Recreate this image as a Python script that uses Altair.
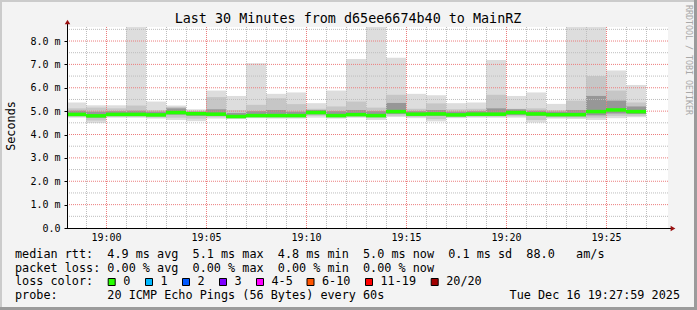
import altair as alt
import pandas as pd

MONO = "DejaVu Sans Mono"

# minutes relative to 19:00 at which each 1-minute smoke bar starts
bar_start = list(range(-2, 27))
rtt_max = [5.37, 5.25, 5.25, 8.60, 5.41, 5.24, 5.08, 5.88, 5.65, 7.05,
           5.74, 5.80, 5.34, 5.88, 7.23, 8.60, 7.28, 5.74, 5.68, 5.34,
           5.37, 7.19, 5.65, 5.80, 5.31, 8.60, 8.60, 6.74, 6.12]
rtt_p90 = [5.12, 5.15, 5.12, 5.24, 5.05, 5.18, 5.02, 5.60, 5.05, 5.27,
           5.55, 5.30, 5.10, 5.20, 5.41, 5.15, 5.70, 5.10, 5.33, 5.08,
           5.10, 5.70, 5.10, 5.12, 5.05, 5.45, 6.50, 5.88, 5.37]
rtt_p75 = [5.02, 4.98, 5.00, 5.02, 4.98, 5.12, 4.98, 5.08, 4.92, 5.00,
           5.05, 4.98, 5.05, 5.00, 5.05, 5.00, 5.35, 5.00, 5.05, 4.98,
           5.00, 5.12, 5.08, 5.02, 4.98, 5.05, 5.65, 5.45, 5.20]
rtt_median = [4.86, 4.80, 4.86, 4.86, 4.84, 4.94, 4.89, 4.87, 4.77, 4.81,
              4.81, 4.81, 4.94, 4.81, 4.85, 4.81, 4.98, 4.87, 4.88, 4.84,
              4.87, 4.87, 4.94, 4.88, 4.85, 4.85, 4.98, 5.05, 4.98]
rtt_p25 = [4.80, 4.72, 4.80, 4.80, 4.78, 4.85, 4.80, 4.80, 4.72, 4.76,
           4.75, 4.76, 4.86, 4.76, 4.80, 4.75, 4.88, 4.80, 4.80, 4.78,
           4.80, 4.80, 4.84, 4.80, 4.78, 4.78, 4.82, 4.90, 4.88]
rtt_p10 = [4.76, 4.60, 4.76, 4.76, 4.73, 4.72, 4.68, 4.74, 4.69, 4.73,
           4.72, 4.72, 4.80, 4.72, 4.76, 4.70, 4.80, 4.75, 4.66, 4.74,
           4.76, 4.76, 4.78, 4.62, 4.73, 4.72, 4.72, 4.80, 4.80]
rtt_min = [4.72, 4.49, 4.72, 4.72, 4.68, 4.62, 4.57, 4.68, 4.66, 4.70,
           4.68, 4.68, 4.72, 4.68, 4.72, 4.62, 4.75, 4.70, 4.56, 4.70,
           4.72, 4.72, 4.72, 4.51, 4.68, 4.66, 4.62, 4.70, 4.74]

x_ticks = [0, 5, 10, 15, 20, 25]
x_minor = [m for m in range(-1, 28) if m % 5 != 0]
y_ticks = [0, 1, 2, 3, 4, 5, 6, 7, 8]
y_major_grid = [1, 2, 3, 4, 5, 6, 7, 8]
y_minor_grid = [0.5, 1.5, 2.5, 3.5, 4.5, 5.5, 6.5, 7.5, 8.5]

title_text = "Last 30 Minutes from d65ee6674b40 to MainRZ"
legend_lines = [
    "median rtt:  4.9 ms avg  5.1 ms max  4.8 ms min  5.0 ms now  0.1 ms sd  88.0   am/s",
    "packet loss: 0.00 % avg  0.00 % max  0.00 % min  0.00 % now",
    "loss color:",
    "probe:       20 ICMP Echo Pings (56 Bytes) every 60s",
]
date_text = "Tue Dec 16 19:27:59 2025"
loss_labels = ["0", "1", "2", "3", "4-5", "6-10", "11-19", "20/20"]
loss_colors = ["#26ff00", "#00b8ff", "#0059ff", "#7e00ff", "#ff00ff",
               "#ff5500", "#ff0000", "#a10000"]
loss_square_x = [111.7, 149, 186, 223, 260, 310.5, 369, 434.7]  # absolute px centres

df = pd.DataFrame({
    "start": bar_start, "mx": rtt_max, "p90": rtt_p90, "p75": rtt_p75,
    "med": rtt_median, "p25": rtt_p25, "p10": rtt_p10, "mn": rtt_min,
})
df["end"] = df["start"] + 1

W, H = 601, 201
PL, PT = 67, 27
xs = alt.Scale(domain=[-1.95, 28.1], nice=False, zero=False)
ys = alt.Scale(domain=[0, 8.6], nice=False, zero=False)

x_axis = alt.Axis(values=x_ticks, grid=False, domain=False, ticks=False,
                  labelExpr="'19:' + (datum.value < 10 ? '0' : '') + datum.value",
                  labelFont=MONO, labelFontSize=10, labelColor="black",
                  labelPadding=4, labelBaseline="top", title=None)
y_axis = alt.Axis(values=y_ticks, grid=False, domain=False, tickSize=3,
                  tickColor="black",
                  labelExpr="datum.value == 0 ? '0.0' : format(datum.value, '.1f') + ' m'",
                  labelFont=MONO, labelFontSize=10, labelColor="black",
                  labelPadding=4, title=None)


def X(f):
    return alt.X(f, scale=xs, axis=x_axis)


def Y(f):
    return alt.Y(f, scale=ys, axis=y_axis)


base = alt.Chart(df)

band0 = base.mark_rect(color="#dddddd", clip=True).encode(
    x=X("start:Q"), x2="end:Q", y=Y("mn:Q"), y2="mx:Q")
band1 = base.mark_rect(color="#c6c6c6", clip=True).encode(
    x=X("start:Q"), x2="end:Q", y=Y("p10:Q"), y2="p90:Q")
band2 = base.mark_rect(color="#979797", clip=True).encode(
    x=X("start:Q"), x2="end:Q", y=Y("p25:Q"), y2="p75:Q")


def vgrid(vals, color):
    return alt.Chart(pd.DataFrame({"v": vals})).mark_rule(
        color=color, strokeDash=[1, 1], strokeWidth=1, xOffset=0.5).encode(
        x=X("v:Q"))


def hgrid(vals, color):
    return alt.Chart(pd.DataFrame({"v": vals})).mark_rule(
        color=color, strokeDash=[1, 1], strokeWidth=1).encode(
        y=Y("v:Q"))


grid = [vgrid(x_minor, "#bdbdbd"), hgrid(y_minor_grid, "#bdbdbd"),
        vgrid(x_ticks, "#ec7d7d"), hgrid(y_major_grid, "#ec7d7d")]

median = base.mark_rule(color="#26ff00", strokeWidth=3.5, clip=True,
                        strokeCap="butt").encode(
    x=X("start:Q"), x2="end:Q", y=Y("med:Q"))

one = pd.DataFrame({"a": [0]})


def rule(x, x2, y, y2, color, width=1):
    return alt.Chart(one).mark_rule(color=color, strokeWidth=width).encode(
        x=alt.value(x), x2=alt.value(x2), y=alt.value(y), y2=alt.value(y2))


def box(x, x2, y, y2, color):
    return alt.Chart(one).mark_rect(color=color).encode(
        x=alt.value(x), x2=alt.value(x2), y=alt.value(y), y2=alt.value(y2))


def label(text, x, y, size, align="left", color="black", angle=0,
          baseline="alphabetic"):
    return alt.Chart(pd.DataFrame({"t": [text.replace(" ", "\u00a0")]})).mark_text(
        font=MONO, fontSize=size, align=align, color=color, angle=angle,
        baseline=baseline).encode(text="t:N", x=alt.value(x), y=alt.value(y))


axes = [
    rule(0.5, 0.5, -5, 201, "black"),
    rule(0, 606, 201.5, 201.5, "black"),
    alt.Chart(one).mark_point(shape="triangle-up", filled=True, color="#9a1010",
                              size=30, opacity=1).encode(x=alt.value(0.5), y=alt.value(-5)),
    alt.Chart(one).mark_point(shape="triangle-right", filled=True, color="#9a1010",
                              size=30, opacity=1).encode(x=alt.value(606), y=alt.value(201.5)),
]

frame = [
    box(-PL, 630, -PT, -PT + 2, "#cbcbcb"),
    box(-PL, -PL + 2, -PT, 283, "#cbcbcb"),
    box(-PL, 630, 280, 283, "#9b9b9b"),
    box(627, 630, -PT, 283, "#9b9b9b"),
]

texts = [
    label(title_text, 348 - PL, 23 - PT, 13.4, align="center"),
    label("Seconds", 10.5 - PL, 126 - PT, 11.8, align="center", angle=270,
          baseline="middle"),
    label("RRDTOOL / TOBI OETIKER", 688 - PL, 5 - PT, 8.3, color="#a8a8a8",
          angle=90, baseline="middle"),
]
baselines = [258, 271.5, 285, 298.5]
for line, b in zip(legend_lines, baselines):
    texts.append(label(line, 15 - PL, b - PT, 11.8))
texts.append(label(date_text, 680 - PL, 298.5 - PT, 11.8, align="right"))

for lab, col, cx in zip(loss_labels, loss_colors, loss_square_x):
    texts.append(alt.Chart(one).mark_square(size=49, filled=True, color=col,
                                            stroke="black", strokeWidth=1,
                                            opacity=1).encode(
        x=alt.value(cx - PL), y=alt.value(282 - PT)))
    texts.append(label(lab, cx + 11.5 - PL, 285 - PT, 11.8))

chart = alt.layer(
    *frame, band0, band1, band2, *grid, median, *axes, *texts
).properties(
    width=W, height=H,
    autosize=alt.AutoSizeParams(type="none"),
    padding={"left": PL, "top": PT, "right": 697 - PL - W, "bottom": 310 - PT - H},
).configure(background="#f3f3f3").configure_view(fill="white", stroke=None)

chart.save("out.html", embed_options={"renderer": "svg", "actions": False})
